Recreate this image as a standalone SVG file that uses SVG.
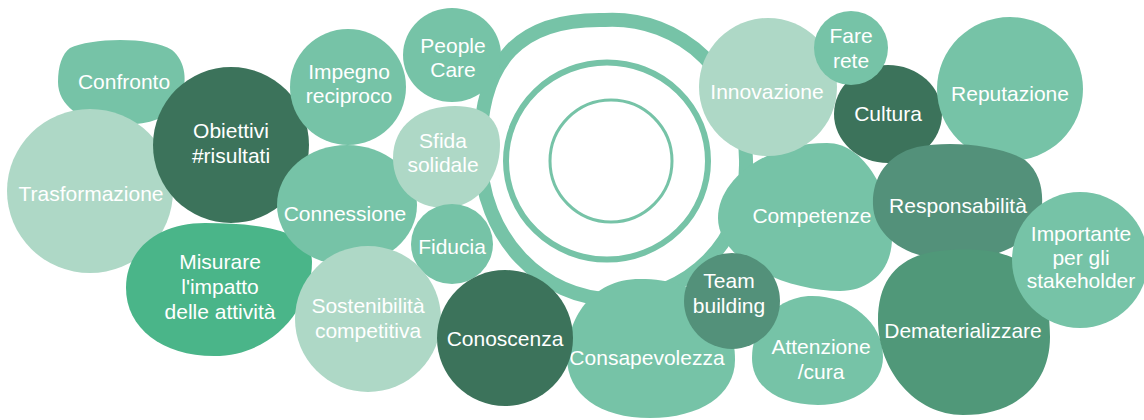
<svg xmlns="http://www.w3.org/2000/svg" width="1144" height="420" viewBox="0 0 1144 420">
<style>
.m{fill:#76c3a7}.l{fill:#aed8c6}.d{fill:#3c735b}.r{fill:#53917a}.g{fill:#4ab589}.dm{fill:#509879}
.ring{fill:none;stroke:#76c3a7}
text{font-family:"Liberation Sans",Arial,Helvetica,sans-serif;font-size:21px;fill:#ffffff;text-anchor:middle}
</style>
<rect width="1144" height="420" fill="#ffffff"/>
<g id="rings">
<path class="ring" stroke-width="14" d="M480,150 C480,60 520,18 605,20 C680,16 748,75 746,165 C746,240 690,299 612,299 C545,299 480,240 480,150 Z"/>
<ellipse class="ring" stroke-width="6" cx="607" cy="161" rx="101" ry="98.5"/>
<circle class="ring" stroke-width="3" cx="611" cy="161" r="61"/>
</g>
<g id="connectors"></g>
<g id="confronto"><path class="m" d="M70,48 C90,38 150,36 172,50 C186,62 188,82 180,100 C168,122 140,126 115,124 C80,122 58,105 58,82 C58,66 62,54 70,48 Z"/><text x="124" y="89">Confronto</text></g>
<g id="trasformazione"><ellipse class="l" cx="90" cy="191" rx="83" ry="82"/><text x="91" y="201">Trasformazione</text></g>
<g id="obiettivi"><circle class="d" cx="231" cy="145" r="78"/><text x="231" y="138">Obiettivi</text><text x="231" y="163">#risultati</text></g>
<g id="impegno"><circle class="m" cx="348" cy="87" r="58"/><text x="349" y="79">Impegno</text><text x="349" y="103">reciproco</text></g>
<g id="misurare"><path class="g" d="M126,288 C126,249 158,223 205,223 C265,223 312,232 312,262 C312,305 275,356 214,356 C162,356 126,328 126,288 Z"/><text x="220" y="269">Misurare</text><text x="220" y="294">l'impatto</text><text x="220" y="319">delle attività</text></g>
<g id="connessione"><ellipse class="m" cx="347" cy="205" rx="70" ry="60"/><text x="345" y="221">Connessione</text></g>
<g id="people-care"><ellipse class="m" cx="452" cy="55" rx="49" ry="47"/><text x="453" y="53">People</text><text x="453" y="77">Care</text></g>
<g id="sfida"><path class="l" d="M393,158 C393,125 420,106 455,106 C485,106 500,120 500,145 C500,180 475,208 445,208 C415,208 393,188 393,158 Z"/><text x="443" y="148">Sfida</text><text x="443" y="172">solidale</text></g>
<g id="fiducia"><ellipse class="m" cx="452" cy="244" rx="41" ry="40"/><text x="452" y="254">Fiducia</text></g>
<g id="sostenibilita"><circle class="l" cx="368" cy="319" r="73"/><text x="368" y="313">Sostenibilità</text><text x="368" y="338">competitiva</text></g>
<g id="consapevolezza"><path class="m" d="M567,357 C567,320 590,279 640,279 C700,279 735,310 735,360 C735,395 700,418 650,418 C600,418 567,395 567,357 Z"/><text x="647" y="365">Consapevolezza</text></g>
<g id="conoscenza"><circle class="d" cx="505" cy="338" r="68"/><text x="505" y="346">Conoscenza</text></g>
<g id="competenze"><path class="m" d="M718,218 C718,180 765,143 827,143 C865,143 892,195 892,238 C892,270 870,291 840,291 C790,291 718,262 718,218 Z"/><text x="812" y="223">Competenze</text></g>
<g id="innovazione"><circle class="l" cx="768" cy="87" r="69"/><text x="767" y="99">Innovazione</text></g>
<g id="attenzione"><path class="m" d="M752,358 C752,322 780,296 812,296 C850,296 883,322 883,357 C883,385 855,405 818,405 C780,405 752,388 752,358 Z"/><text x="821" y="354">Attenzione</text><text x="821" y="379">/cura</text></g>
<g id="team-building"><circle class="r" cx="732" cy="301" r="48"/><text x="729" y="288">Team</text><text x="729" y="313">building</text></g>
<g id="cultura"><ellipse class="d" cx="888" cy="114" rx="54" ry="49"/><text x="888" y="121">Cultura</text></g>
<g id="fare-rete"><circle class="m" cx="851" cy="48" r="37"/><text x="851" y="43">Fare</text><text x="851" y="68">rete</text></g>
<g id="reputazione"><ellipse class="m" cx="1010" cy="89" rx="73" ry="72"/><text x="1010" y="101">Reputazione</text></g>
<g id="responsabilita"><path class="r" d="M873,205 C872,180 885,155 917,147 C950,140 1000,145 1025,160 C1040,172 1043,190 1042,205 C1040,240 1000,260 955,260 C905,260 874,235 873,205 Z"/><text x="958" y="213">Responsabilità</text></g>
<g id="dematerializzare"><path class="dm" d="M878,320 C878,278 900,252 950,250 C1020,246 1050,268 1050,337 C1050,385 1015,415 963,415 C915,415 878,370 878,320 Z"/><text x="963" y="338">Dematerializzare</text></g>
<g id="importante"><circle class="m" cx="1080" cy="260" r="68"/><text x="1081" y="241">Importante</text><text x="1081" y="265">per gli</text><text x="1081" y="288">stakeholder</text></g>
</svg>
